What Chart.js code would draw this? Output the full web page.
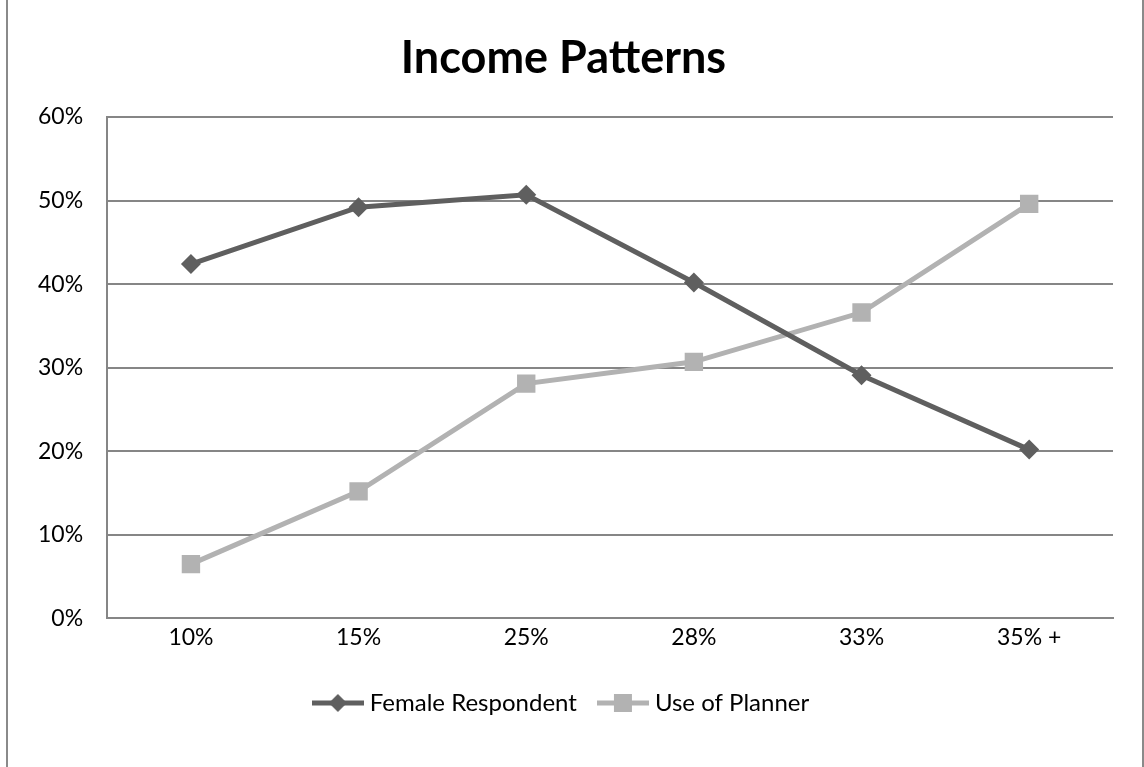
<!DOCTYPE html>
<html>
<head>
<meta charset="utf-8">
<title>Income Patterns</title>
<script src="https://cdn.jsdelivr.net/npm/chart.js@4.4.1/dist/chart.umd.min.js"></script>
<style>
  html, body { margin: 0; padding: 0; background: #fff; }
  #frame {
    position: absolute; left: 6px; top: 0; width: 1134px; height: 767px;
    border-left: 2px solid #8a8a8a; border-right: 2px solid #8a8a8a;
    pointer-events: none;
  }
  #wrap { position: absolute; left: 0; top: 0; width: 1144px; height: 767px; }
</style>
</head>
<body>
<div id="wrap"><canvas id="incomeChart" width="1144" height="767"></canvas></div>
<div id="frame"></div>
<script>
// data
const brackets = ["10%", "15%", "25%", "28%", "33%", "35% +"];
const femaleRespondent = [0.424, 0.492, 0.507, 0.402, 0.291, 0.202];
const useOfPlanner = [0.065, 0.152, 0.281, 0.307, 0.366, 0.496];
const yTicks = [0, 0.1, 0.2, 0.3, 0.4, 0.5, 0.6];

const darkGrey = "#5f5f5f";
const lightGrey = "#b2b2b2";
const fontFamily = "Lato, 'Open Sans', sans-serif";

// small canvases so the legend shows a line with its marker, like the original
function legendIcon(color, shape) {
    const c = document.createElement("canvas");
    c.width = 52; c.height = 18;
    const g = c.getContext("2d");
    g.strokeStyle = color;
    g.lineWidth = 5;
    g.beginPath();
    g.moveTo(0, 9);
    g.lineTo(52, 9);
    g.stroke();
    g.fillStyle = color;
    if (shape === "diamond") {
        g.beginPath();
        g.moveTo(26, 0);
        g.lineTo(35, 9);
        g.lineTo(26, 18);
        g.lineTo(17, 9);
        g.closePath();
        g.fill();
    } else {
        g.fillRect(17, 0, 18, 18);
    }
    return c;
}

const ctx = document.getElementById("incomeChart").getContext("2d");
new Chart(ctx, {
    type: "line",
    data: {
        labels: brackets,
        datasets: [{
            label: "Female Respondent",
            data: femaleRespondent,
            borderColor: darkGrey,
            backgroundColor: darkGrey,
            borderWidth: 5,
            pointStyle: "rectRot",
            pointRadius: 10,
            pointBorderWidth: 0,
            tension: 0
        }, {
            label: "Use of Planner",
            data: useOfPlanner,
            borderColor: lightGrey,
            backgroundColor: lightGrey,
            borderWidth: 5,
            pointStyle: "rect",
            pointRadius: 13,
            pointBorderWidth: 0,
            tension: 0
        }]
    },
    options: {
        responsive: false,
        animation: false,
        layout: { padding: { left: 14, right: 31, top: 10, bottom: 42 } },
        plugins: {
            title: {
                display: true,
                text: "Income Patterns",
                color: "#000",
                font: { family: fontFamily, size: 45, weight: "bold" },
                padding: { top: 21, bottom: 32 }
            },
            legend: {
                position: "bottom",
                labels: {
                    usePointStyle: true,
                    pointStyleWidth: 40,
                    color: "#000",
                    padding: 26,
                    font: { family: fontFamily, size: 24 },
                    generateLabels(chart) {
                        return chart.data.datasets.map((ds, i) => ({
                            text: ds.label,
                            pointStyle: legendIcon(ds.borderColor, i === 0 ? "diamond" : "square"),
                            fillStyle: ds.borderColor,
                            strokeStyle: ds.borderColor,
                            lineWidth: 0,
                            hidden: false,
                            datasetIndex: i
                        }));
                    }
                }
            },
            tooltip: { enabled: false }
        },
        scales: {
            x: {
                offset: true,
                grid: { display: false, drawTicks: false },
                border: { display: true, color: "#868686", width: 2 },
                ticks: { color: "#000", padding: 5, maxRotation: 0, font: { family: fontFamily, size: 23 } },
                afterFit(scale) { scale.height += 9; }
            },
            y: {
                min: 0,
                max: 0.6,
                afterBuildTicks(axis) {
                    axis.ticks = yTicks.map(v => ({ value: v }));
                },
                grid: { color: "#868686", lineWidth: 2, drawTicks: false },
                border: { display: true, color: "#868686", width: 2 },
                ticks: {
                    color: "#000",
                    padding: 24,
                    font: { family: fontFamily, size: 23 },
                    callback: v => Math.round(v * 100) + "%"
                }
            }
        }
    }
});
</script>
</body>
</html>
